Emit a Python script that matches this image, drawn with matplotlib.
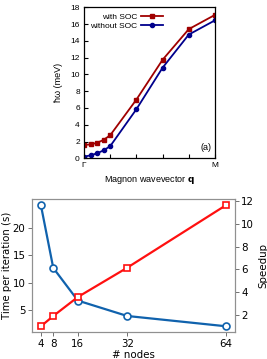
import matplotlib
matplotlib.use("Agg")
from matplotlib import pyplot as plt

# magnon dispersion (top panel)
q = [0.0, 0.05, 0.1, 0.15, 0.2, 0.4, 0.6, 0.8, 1.0]
e_soc = [1.6, 1.65, 1.85, 2.2, 2.75, 7.0, 11.75, 15.4, 17.1]
e_nosoc = [0.2, 0.35, 0.6, 0.95, 1.45, 5.85, 10.8, 14.75, 16.45]

# scaling test (bottom panel)
nodes = [4, 8, 16, 32, 64]
t_iter = [24.1, 12.7, 6.75, 3.95, 2.08]
speedup = [1.0, 1.9, 3.57, 6.14, 11.62]

fig = plt.figure(figsize=(2.67, 3.59), dpi=100)

# ---- top: gnuplot-looking panel
ax1 = fig.add_axes([0.3146, 0.559, 0.4906, 0.4206])
top_font = "Liberation Sans"
ax1.plot(q, e_soc, color="#a00000", marker="s", ms=3.2, lw=1.3, label="with SOC")
ax1.plot(q, e_nosoc, color="#00008c", marker="o", ms=3.0, lw=1.3, label="without SOC")
ax1.set_xlim(0, 1)
ax1.set_ylim(0, 18)
ax1.set_yticks(range(0, 19, 2))
ax1.set_xticks([0, 0.2, 0.4, 0.6, 0.8, 1.0])
ax1.set_xticklabels(["Γ", "", "", "", "", "M"])
ax1.tick_params(direction="in", length=3, width=0.8, labelsize=6, pad=3,
                top=False, right=False)
for lab in ax1.get_xticklabels() + ax1.get_yticklabels():
    lab.set_family(top_font)
for sp in ax1.spines.values():
    sp.set_linewidth(0.9)
ax1.set_ylabel("ħω (meV)", fontsize=6.5, family=top_font, labelpad=5)
ax1.set_xlabel("Magnon wavevector $\\mathbf{q}$", fontsize=6.5, family=top_font, labelpad=3)
ax1.text(0.97, 0.04, "(a)", transform=ax1.transAxes, ha="right", va="bottom",
         fontsize=6.5, family=top_font)
ax1.legend(loc="upper left", bbox_to_anchor=(0.0, 1.0), frameon=False,
           markerfirst=False, handlelength=2.6, handletextpad=0.5,
           labelspacing=0.1, borderaxespad=0.3,
           prop={"family": top_font, "size": 6})

# ---- bottom: time and speedup vs nodes
ax2 = fig.add_axes([0.1187, 0.0744, 0.7614, 0.3705])
blue = "#1062ad"
red = "#ff1010"
ax2.plot(nodes, t_iter, color=blue, lw=1.6, marker="o", ms=5, mfc="white",
         mew=1.2, zorder=3)
ax2.set_xticks(nodes)
ax2.set_ylabel("Time per iteration (s)", fontsize=7.3, labelpad=0.3)
ax2.set_xlabel("# nodes", fontsize=7.4, labelpad=1)
ax2.set_yticks([5, 10, 15, 20])

ax3 = ax2.twinx()
ax3.plot(nodes, speedup, color=red, lw=1.6, marker="s", ms=5, mfc="white",
         mew=1.2, zorder=3)
ax3.set_ylabel("Speedup", fontsize=7.4, labelpad=3)
ax3.set_yticks([2, 4, 6, 8, 10, 12])

for a in (ax2, ax3):
    a.tick_params(labelsize=7.4, length=3, width=0.7, color="#707070", pad=1.5)
    for sp in a.spines.values():
        sp.set_color("#909090")
        sp.set_linewidth(0.8)

fig.savefig("out.png", dpi=100)
